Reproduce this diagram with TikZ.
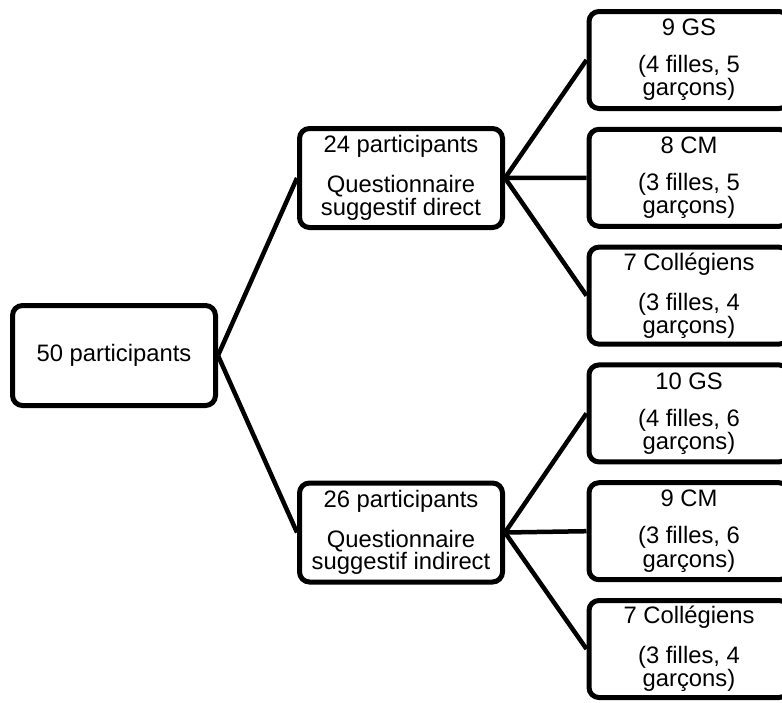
\documentclass[tikz,border=0pt]{standalone}
\usepackage{fontspec}
\setmainfont{Liberation Sans}
\begin{document}
\begin{tikzpicture}[x=1pt,y=-1pt,
  box/.style={draw=black, line width=5pt, rounded corners=10pt, fill=white,
    align=center, inner sep=0pt, font=\fontsize{23.8}{20.5}\selectfont},
  rootbox/.style={box, minimum width=203pt, minimum height=100pt},
  midbox/.style={box, minimum width=203pt, minimum height=99pt},
  leafbox/.style={box, minimum width=200pt, minimum height=97pt},
  link/.style={draw=black, line width=4.5pt}]
\useasboundingbox (0,0) rectangle (782,702);
\clip (0,0) rectangle (782,702);
\node[rootbox] (root) at (114,355.5) {50 participants};
\node[midbox] (m1) at (401,178) {24 participants\\[16.5pt]Questionnaire\\suggestif direct};
\node[midbox] (m2) at (401,532.5) {26 participants\\[16.5pt]Questionnaire\\suggestif indirect};
\node[leafbox] (l1) at (689,60) {9 GS\\[16.5pt](4 filles, 5\\garçons)};
\node[leafbox] (l2) at (689,177.8) {8 CM\\[16.5pt](3 filles, 5\\garçons)};
\node[leafbox] (l3) at (689,295.6) {7 Collégiens\\[16.5pt](3 filles, 4\\garçons)};
\node[leafbox] (l4) at (689,413.4) {10 GS\\[16.5pt](4 filles, 6\\garçons)};
\node[leafbox] (l5) at (689,531.2) {9 CM\\[16.5pt](3 filles, 6\\garçons)};
\node[leafbox] (l6) at (689,649) {7 Collégiens\\[16.5pt](3 filles, 4\\garçons)};
\draw[link] (root.east) -- (m1.west);
\draw[link] (root.east) -- (m2.west);
\draw[link] (m1.east) -- (l1.west);
\draw[link] (m1.east) -- (l2.west);
\draw[link] (m1.east) -- (l3.west);
\draw[link] (m2.east) -- (l4.west);
\draw[link] (m2.east) -- (l5.west);
\draw[link] (m2.east) -- (l6.west);
\end{tikzpicture}
\end{document}
